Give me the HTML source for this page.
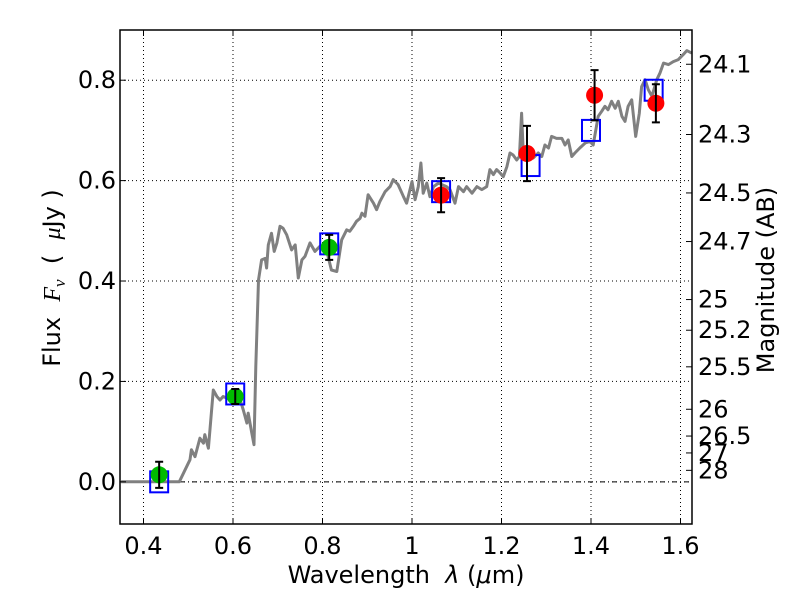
<!DOCTYPE html>
<html><head><meta charset="utf-8"><style>
html,body{margin:0;padding:0;background:#fff;}
svg{display:block;font-family:"DejaVu Sans","Liberation Sans",sans-serif;}
</style></head><body>
<svg id="chart" width="800" height="600" xmlns="http://www.w3.org/2000/svg" xml:space="preserve">
<rect x="0" y="0" width="800" height="600" fill="#fff"/>
<g id="grid"></g>
<g id="marks"></g>
<g id="axes"></g>
<text x="406" y="583" font-size="24" text-anchor="middle" style="white-space:pre">Wavelength  <tspan font-style="italic">λ</tspan> (<tspan font-style="italic">μ</tspan>m)</text>
<text transform="translate(60,278) rotate(-90)" font-size="24" text-anchor="middle" style="white-space:pre">Flux  <tspan font-family="Liberation Serif, serif" font-style="italic">F<tspan font-size="17" dy="5">ν</tspan></tspan><tspan dy="-5">  (  </tspan><tspan font-family="Liberation Serif, serif" font-style="italic">μ</tspan>Jy )</text>
<text transform="translate(774,280) rotate(-90)" font-size="24" text-anchor="middle">Magnitude (AB)</text>
</svg>
<script>
const specW=[0.35,0.48,0.504,0.507,0.515,0.526,0.534,0.537,0.545,0.556,0.564,0.571,0.578,0.586,0.601,0.616,0.623,0.631,0.634,0.642,0.647,0.651,0.657,0.664,0.672,0.675,0.679,0.686,0.692,0.698,0.705,0.712,0.720,0.731,0.739,0.746,0.754,0.761,0.772,0.783,0.794,0.809,0.820,0.832,0.843,0.854,0.861,0.869,0.876,0.884,0.888,0.895,0.902,0.914,0.921,0.928,0.940,0.951,0.958,0.969,0.981,0.988,1.000,1.007,1.014,1.020,1.025,1.033,1.040,1.048,1.059,1.077,1.085,1.096,1.104,1.115,1.122,1.134,1.145,1.156,1.167,1.174,1.182,1.189,1.197,1.204,1.212,1.219,1.226,1.234,1.240,1.245,1.249,1.260,1.271,1.282,1.290,1.297,1.305,1.312,1.323,1.335,1.342,1.349,1.357,1.364,1.375,1.387,1.398,1.405,1.416,1.424,1.431,1.438,1.446,1.454,1.461,1.469,1.476,1.483,1.491,1.500,1.508,1.513,1.521,1.528,1.536,1.547,1.554,1.562,1.573,1.584,1.595,1.606,1.614,1.625];
const specF=[0,0,0.044,0.064,0.050,0.087,0.077,0.094,0.067,0.183,0.170,0.163,0.170,0.167,0.160,0.163,0.143,0.117,0.137,0.097,0.074,0.230,0.402,0.442,0.445,0.426,0.472,0.495,0.459,0.476,0.509,0.505,0.492,0.462,0.472,0.406,0.442,0.449,0.476,0.459,0.469,0.462,0.422,0.419,0.482,0.502,0.499,0.509,0.519,0.525,0.535,0.529,0.572,0.555,0.542,0.558,0.578,0.588,0.602,0.592,0.568,0.555,0.598,0.562,0.588,0.635,0.575,0.595,0.568,0.588,0.595,0.588,0.582,0.555,0.588,0.578,0.588,0.575,0.588,0.582,0.588,0.622,0.612,0.622,0.615,0.608,0.628,0.655,0.651,0.641,0.648,0.734,0.648,0.655,0.645,0.655,0.648,0.671,0.665,0.688,0.684,0.684,0.671,0.681,0.648,0.655,0.665,0.675,0.678,0.671,0.728,0.738,0.748,0.741,0.758,0.744,0.758,0.728,0.718,0.748,0.761,0.688,0.734,0.787,0.801,0.781,0.768,0.801,0.814,0.834,0.831,0.837,0.841,0.851,0.859,0.854];
const obsW=[0.435,0.605,0.815,1.065,1.257,1.408,1.545];
const obsF=[0.014,0.170,0.467,0.571,0.654,0.770,0.754];
const obsErr=[0.026,0.015,0.025,0.034,0.055,0.050,0.038];
const obsColor=['#00bb00','#00bb00','#00bb00','#ff0000','#ff0000','#ff0000','#ff0000'];
const modW=[0.435,0.605,0.815,1.065,1.265,1.400,1.540];
const modF=[0.0,0.175,0.474,0.578,0.630,0.700,0.780];
const xTicks=[0.4,0.6,0.8,1.0,1.2,1.4,1.6];
const xTickLabels=['0.4','0.6','0.8','1','1.2','1.4','1.6'];
const yTicks=[0.0,0.2,0.4,0.6,0.8];
const yTickLabels=['0.0','0.2','0.4','0.6','0.8'];
const magTicks=[24.1,24.3,24.5,24.7,25,25.2,25.5,26,26.5,27,28];
const magTickLabels=['24.1','24.3','24.5','24.7','25','25.2','25.5','26','26.5','27','28'];

const L=120,R=692,T=30,B=524;
const xMin=0.3475,xMax=1.6257,yMin=-0.084,yMax=0.900;
function X(w){return L+(w-xMin)/(xMax-xMin)*(R-L);}
function Y(f){return B-(f-yMin)/(yMax-yMin)*(B-T);}
const NS='http://www.w3.org/2000/svg';
function mk(parent,tag,attrs){const e=document.createElementNS(NS,tag);for(const k in attrs)e.setAttribute(k,attrs[k]);parent.appendChild(e);return e;}
const grid=document.getElementById('grid'),marks=document.getElementById('marks'),axes=document.getElementById('axes');

xTicks.forEach((t,i)=>{
  const g=mk(grid,'line',{x1:X(t),x2:X(t),y1:T,y2:B,stroke:'#000','stroke-width':1,'stroke-dasharray':'1,3'});
  
  
  const t1=mk(axes,'line',{x1:X(t),x2:X(t),y1:B,y2:B-6,stroke:'#000'});
  
  
  mk(axes,'line',{x1:X(t),x2:X(t),y1:T,y2:T+6,stroke:'#000'});
  const lb=mk(axes,'text',{x:X(t),y:B+30,'font-size':24,'text-anchor':'middle'});
  lb.textContent=xTickLabels[i];
  
  
});
yTicks.forEach((t,i)=>{
  const g=mk(grid,'line',{x1:L,x2:R,y1:Y(t),y2:Y(t),stroke:'#000','stroke-width':1,'stroke-dasharray':'1,3'});
  
  
  const tk=mk(axes,'line',{x1:L,x2:L+6,y1:Y(t),y2:Y(t),stroke:'#000'});
  
  
  const lb=mk(axes,'text',{x:L-4,y:Y(t)+8,'font-size':24,'text-anchor':'end'});
  lb.textContent=yTickLabels[i];
  
  
});
magTicks.forEach((m,i)=>{
  const f=Math.pow(10,(23.9-m)/2.5);
  const tk=mk(axes,'line',{x1:R,x2:R-6,y1:Y(f),y2:Y(f),stroke:'#000'});
  
  
  const lb=mk(axes,'text',{x:R+6,y:Y(f)+8,'font-size':24});
  lb.textContent=magTickLabels[i];
  
  
});
const z=mk(marks,'line',{x1:L,x2:R,y1:Y(0),y2:Y(0),stroke:'#000','stroke-width':1,'stroke-dasharray':'5,3,1,3'});


const pts=specW.map((w,i)=>X(w).toFixed(1)+','+Y(specF[i]).toFixed(1)).join(' ');
const sp=mk(marks,'polyline',{points:pts,fill:'none',stroke:'#808080','stroke-width':3,'stroke-linejoin':'round'});


modW.forEach((w,i)=>{
  const s=mk(marks,'rect',{x:X(w)-9,y:Y(modF[i])-10.5,width:18,height:21,fill:'none',stroke:'#0000ff','stroke-width':2});
  
  
});
obsW.forEach((w,i)=>{
  const c=mk(marks,'circle',{cx:X(w),cy:Y(obsF[i]),r:8.5,fill:obsColor[i]});
  
  
  const x=X(w),y1=Y(obsF[i]+obsErr[i]),y2=Y(obsF[i]-obsErr[i]);
  const eb=mk(marks,'path',{d:`M${x},${y1}V${y2}M${x-4},${y1}H${x+4}M${x-4},${y2}H${x+4}`,stroke:'#000','stroke-width':2,fill:'none'});
  
  
});
const fr=mk(axes,'rect',{x:L,y:T,width:R-L,height:B-T,fill:'none',stroke:'#000','stroke-width':1.5});


</script>
</body></html>
